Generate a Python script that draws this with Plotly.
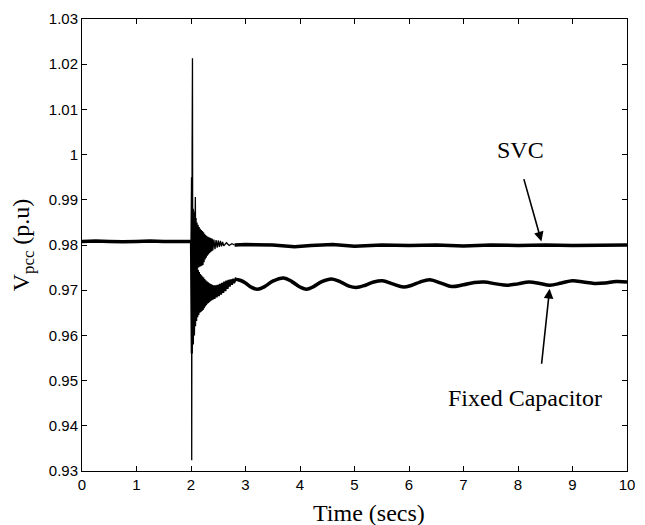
import plotly.graph_objects as go

# ---------------- data ----------------
# Pre-fault (both cases identical)
pre_t = [0.0, 0.25, 0.5, 0.75, 1.0, 1.25, 1.5, 1.75, 2.0]
pre_v = [0.9808, 0.9809, 0.9808, 0.9807, 0.9808, 0.9809, 0.9808, 0.9808, 0.9808]

# SVC transient (dense oscillation after the disturbance at t = 2 s)
svc_tr_t = [2.000, 2.006, 2.010, 2.013, 2.020, 2.027, 2.033, 2.040, 2.047, 2.053,
            2.060, 2.067, 2.073, 2.080, 2.087, 2.093, 2.100, 2.110, 2.120, 2.130,
            2.140, 2.150, 2.160, 2.170, 2.180, 2.190, 2.200, 2.210, 2.220, 2.230,
            2.240, 2.250, 2.260, 2.270, 2.280, 2.290, 2.300, 2.310, 2.320, 2.330,
            2.340, 2.350, 2.360, 2.370, 2.380, 2.390, 2.400, 2.420, 2.440, 2.460,
            2.480, 2.500, 2.520, 2.540, 2.560, 2.580, 2.600, 2.650, 2.700, 2.750,
            2.800]
svc_tr_v = [0.9808, 0.9425, 0.9950, 0.9324, 1.0000, 1.0213, 0.9620, 0.9880, 0.9650, 0.9870,
            0.9700, 0.9860, 0.9730, 0.9906, 0.9740, 0.9860, 0.9745, 0.9850, 0.9748, 0.9845,
            0.9750, 0.9840, 0.9752, 0.9836, 0.9753, 0.9833, 0.9754, 0.9831, 0.9756, 0.9828,
            0.9762, 0.9825, 0.9768, 0.9822, 0.9772, 0.9820, 0.9776, 0.9818, 0.9779, 0.9817,
            0.9782, 0.9816, 0.9784, 0.9815, 0.9786, 0.9814, 0.9788, 0.9812, 0.9791, 0.9811,
            0.9794, 0.9810, 0.9796, 0.9809, 0.9797, 0.9807, 0.9798, 0.9805, 0.9799, 0.9803,
            0.9800]

# SVC steady state
svc_ss_t = [2.8, 3.0, 3.5, 3.9, 4.2, 4.6, 5.0, 5.5, 6.0, 6.5, 7.0, 7.5, 8.0, 8.5, 9.0, 9.5, 10.0]
svc_ss_v = [0.9800, 0.9801, 0.9800, 0.9796, 0.9799, 0.9801, 0.9797, 0.9800, 0.9799, 0.9800,
            0.9798, 0.9800, 0.9799, 0.9800, 0.9799, 0.9800, 0.9800]

# Fixed capacitor transient
fc_tr_t = [2.000, 2.015, 2.025, 2.035, 2.045, 2.055, 2.065, 2.075, 2.085, 2.095,
           2.105, 2.115, 2.125, 2.135, 2.145, 2.155, 2.165, 2.175, 2.185, 2.195,
           2.205, 2.215, 2.225, 2.235, 2.245, 2.255, 2.265, 2.275, 2.285, 2.295,
           2.305, 2.315, 2.325, 2.335, 2.345, 2.355, 2.365, 2.375, 2.385, 2.395,
           2.410, 2.430, 2.450, 2.470, 2.490, 2.510, 2.530, 2.550, 2.570, 2.590,
           2.610, 2.630, 2.650, 2.670, 2.690, 2.710, 2.730, 2.750, 2.770, 2.790,
           2.820, 2.860, 2.900]
fc_tr_v = [0.9808, 0.9560, 0.9790, 0.9580, 0.9770, 0.9600, 0.9762, 0.9620, 0.9757, 0.9632,
           0.9750, 0.9640, 0.9745, 0.9645, 0.9740, 0.9650, 0.9736, 0.9652, 0.9733, 0.9654,
           0.9730, 0.9656, 0.9728, 0.9660, 0.9725, 0.9664, 0.9722, 0.9667, 0.9720, 0.9670,
           0.9718, 0.9672, 0.9716, 0.9674, 0.9714, 0.9676, 0.9713, 0.9678, 0.9712, 0.9679,
           0.9711, 0.9681, 0.9711, 0.9684, 0.9712, 0.9687, 0.9714, 0.9690, 0.9716, 0.9694,
           0.9719, 0.9698, 0.9721, 0.9703, 0.9723, 0.9708, 0.9724, 0.9712, 0.9725, 0.9716,
           0.9725, 0.9722, 0.9722]

# Fixed capacitor slow oscillation
fc_ss_t = [2.80, 2.90, 3.0, 3.1, 3.22, 3.35, 3.5, 3.7, 3.85, 4.0, 4.12, 4.25, 4.4, 4.58, 4.75,
           4.9, 5.03, 5.2, 5.35, 5.51, 5.7, 5.9, 6.05, 6.2, 6.38, 6.6, 6.78, 7.0, 7.2, 7.38,
           7.6, 7.8, 8.0, 8.2, 8.4, 8.58, 8.8, 9.0, 9.2, 9.4, 9.6, 9.8, 10.0]
fc_ss_v = [0.9724, 0.9722, 0.9716, 0.9707, 0.9702, 0.9708, 0.9720, 0.9727, 0.9719, 0.9707,
           0.9702, 0.9708, 0.9719, 0.9725, 0.9718, 0.9709, 0.9706, 0.9711, 0.9718, 0.9721,
           0.9714, 0.9707, 0.9711, 0.9718, 0.9723, 0.9715, 0.9708, 0.9712, 0.9717, 0.9718,
           0.9714, 0.9711, 0.9714, 0.9718, 0.9715, 0.9711, 0.9716, 0.9721, 0.9718, 0.9715,
           0.9716, 0.9719, 0.9718]

x_ticks = [0, 1, 2, 3, 4, 5, 6, 7, 8, 9, 10]
y_ticks = [0.93, 0.94, 0.95, 0.96, 0.97, 0.98, 0.99, 1.00, 1.01, 1.02, 1.03]
y_tick_text = ["0.93", "0.94", "0.95", "0.96", "0.97", "0.98", "0.99", "1", "1.01", "1.02", "1.03"]

# ---------------- figure ----------------
fig = go.Figure()
thick = dict(color="black", width=3.5)

fig.add_trace(go.Scatter(x=pre_t, y=pre_v, mode="lines", line=thick, showlegend=False))
fig.add_trace(go.Scatter(x=fc_tr_t, y=fc_tr_v, mode="lines", line=dict(color="black", width=2.2),
                         showlegend=False))
fig.add_trace(go.Scatter(x=fc_ss_t, y=fc_ss_v, mode="lines",
                         line=dict(color="black", width=3.5, shape="spline"), showlegend=False))
fig.add_trace(go.Scatter(x=svc_tr_t, y=svc_tr_v, mode="lines", line=dict(color="black", width=1.3),
                         showlegend=False))
fig.add_trace(go.Scatter(x=svc_ss_t, y=svc_ss_v, mode="lines", line=thick, showlegend=False))

serif = "Liberation Serif, Times New Roman, serif"
sans = "Liberation Sans, Arial, Helvetica, sans-serif"

fig.add_annotation(x=8.04, y=1.0011, xref="x", yref="y", text="SVC", showarrow=False,
                   font=dict(family=serif, size=24, color="black"))
fig.add_annotation(x=8.43, y=0.9808, ax=8.10, ay=0.9949, xref="x", yref="y", axref="x", ayref="y",
                   text="", showarrow=True, arrowhead=2, arrowsize=1.2, arrowwidth=1.6,
                   arrowcolor="black", standoff=0, startstandoff=0)
fig.add_annotation(x=8.13, y=0.9461, xref="x", yref="y", text="Fixed Capacitor", showarrow=False,
                   font=dict(family=serif, size=24, color="black"))
fig.add_annotation(x=8.58, y=0.9703, ax=8.43, ay=0.9534, xref="x", yref="y", axref="x", ayref="y",
                   text="", showarrow=True, arrowhead=2, arrowsize=1.2, arrowwidth=1.6,
                   arrowcolor="black", standoff=0, startstandoff=0)
fig.add_annotation(x=5.26, y=0, xref="x", yref="paper", yanchor="top", yshift=-27,
                   text="Time (secs)", showarrow=False,
                   font=dict(family=serif, size=24, color="black"))

fig.update_layout(
    width=645, height=525,
    margin=dict(l=82, r=10, t=10, b=54),
    paper_bgcolor="white", plot_bgcolor="white",
    font=dict(family=sans, size=15, color="black"),
)
fig.update_xaxes(range=[0, 10], tickvals=x_ticks, ticks="inside", ticklen=5, tickcolor="black",
                 showline=True, linecolor="black", linewidth=1, mirror="allticks",
                 showgrid=False, zeroline=False, tickfont=dict(family=sans, size=15))
fig.update_yaxes(range=[0.93, 1.03], tickvals=y_ticks, ticktext=y_tick_text, ticks="inside",
                 ticklen=5, tickcolor="black", showline=True, linecolor="black", linewidth=1,
                 mirror="allticks", showgrid=False, zeroline=False,
                 tickfont=dict(family=sans, size=15),
                 title=dict(text="V<sub>pcc</sub> (p.u)", font=dict(family=serif, size=24), standoff=12))

fig.write_html("out.html")
